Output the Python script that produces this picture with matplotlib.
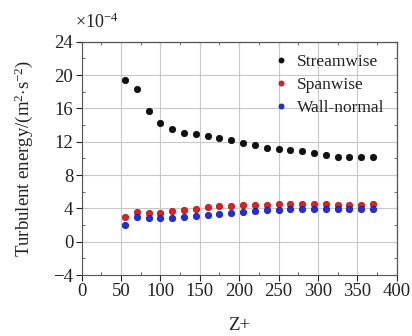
import matplotlib
matplotlib.use("Agg")
import matplotlib.pyplot as plt
from matplotlib.ticker import MultipleLocator

plt.rcParams['font.family'] = ['Liberation Serif', 'DejaVu Serif']
plt.rcParams['mathtext.fontset'] = 'custom'
plt.rcParams['mathtext.rm'] = 'Liberation Serif'
plt.rcParams['mathtext.it'] = 'Liberation Serif:italic'

zplus = [55, 70, 85, 100, 115, 130, 145, 160, 175, 190, 205, 220, 235, 250,
         265, 280, 295, 310, 325, 340, 355, 370]
streamwise = [19.4, 18.35, 15.7, 14.2, 13.5, 13.1, 12.9, 12.7, 12.5, 12.2, 11.9,
              11.6, 11.3, 11.15, 11.0, 10.85, 10.6, 10.35, 10.2, 10.2, 10.2, 10.2]
spanwise = [2.95, 3.6, 3.4, 3.4, 3.65, 3.75, 3.95, 4.2, 4.3, 4.3, 4.35, 4.35,
            4.4, 4.5, 4.5, 4.55, 4.55, 4.5, 4.45, 4.4, 4.45, 4.5]
wallnormal = [2.0, 2.95, 2.85, 2.8, 2.9, 3.0, 3.05, 3.2, 3.35, 3.5, 3.6, 3.7,
              3.8, 3.85, 3.9, 3.9, 3.9, 3.9, 3.9, 3.9, 3.9, 3.9]
series_names = ['Streamwise', 'Spanwise', 'Wall-normal']
colors = ['#111111', '#e02020', '#2030e0']
edges = ['#000000', '#a01010', '#1010a0']

fig = plt.figure(figsize=(4.12, 3.36), dpi=100)
ax = fig.add_axes([0.198, 0.1815, 0.765, 0.6945])

for ys, name, c, e in zip([streamwise, spanwise, wallnormal], series_names, colors, edges):
    ax.plot(zplus, ys, linestyle='none', marker='o', markersize=4.6,
            markerfacecolor=c, markeredgecolor=e, markeredgewidth=0.5, label=name, zorder=3)

ax.set_xlim(0, 400)
ax.set_ylim(-4, 24)
ax.xaxis.set_major_locator(MultipleLocator(50))
ax.xaxis.set_minor_locator(MultipleLocator(25))
ax.yaxis.set_major_locator(MultipleLocator(4))
ax.yaxis.set_minor_locator(MultipleLocator(2))
ax.grid(True, which='major', color='#c8c8c8', linewidth=0.8, zorder=0)
ax.set_axisbelow(True)

ax.tick_params(which='major', direction='out', length=4, width=0.8, labelsize=13.5,
               colors='#222222', pad=2)
ax.tick_params(which='minor', direction='in', length=2.5, width=0.6, colors='#444444')
for s in ax.spines.values():
    s.set_color('#555555')
    s.set_linewidth(0.8)

sec_x = ax.secondary_xaxis('top')
sec_x.xaxis.set_major_locator(MultipleLocator(50))
sec_x.xaxis.set_minor_locator(MultipleLocator(25))
sec_x.tick_params(which='both', direction='in', length=2.5, labeltop=False, colors='#555555')
sec_y = ax.secondary_yaxis('right')
sec_y.yaxis.set_major_locator(MultipleLocator(4))
sec_y.yaxis.set_minor_locator(MultipleLocator(2))
sec_y.tick_params(which='both', direction='in', length=2.5, labelright=False, colors='#555555')

ax.set_xlabel('Z+', fontsize=13.5, color='#222222', labelpad=12)
ax.set_ylabel(r'Turbulent energy/(m$^{2}$$\cdot$s$^{-2}$)', fontsize=13.5, color='#222222', labelpad=13)
fig.text(0.182, 0.935, r'$\times$10$^{-4}$', fontsize=13, color='#222222', va='center')

leg = ax.legend(loc='upper right', frameon=False, fontsize=12.5, markerscale=0.8,
                handletextpad=0.3, handlelength=1.2, labelspacing=0.4,
                borderaxespad=0.3)
for t in leg.get_texts():
    t.set_color('#222222')

fig.savefig('out.png', dpi=100)
